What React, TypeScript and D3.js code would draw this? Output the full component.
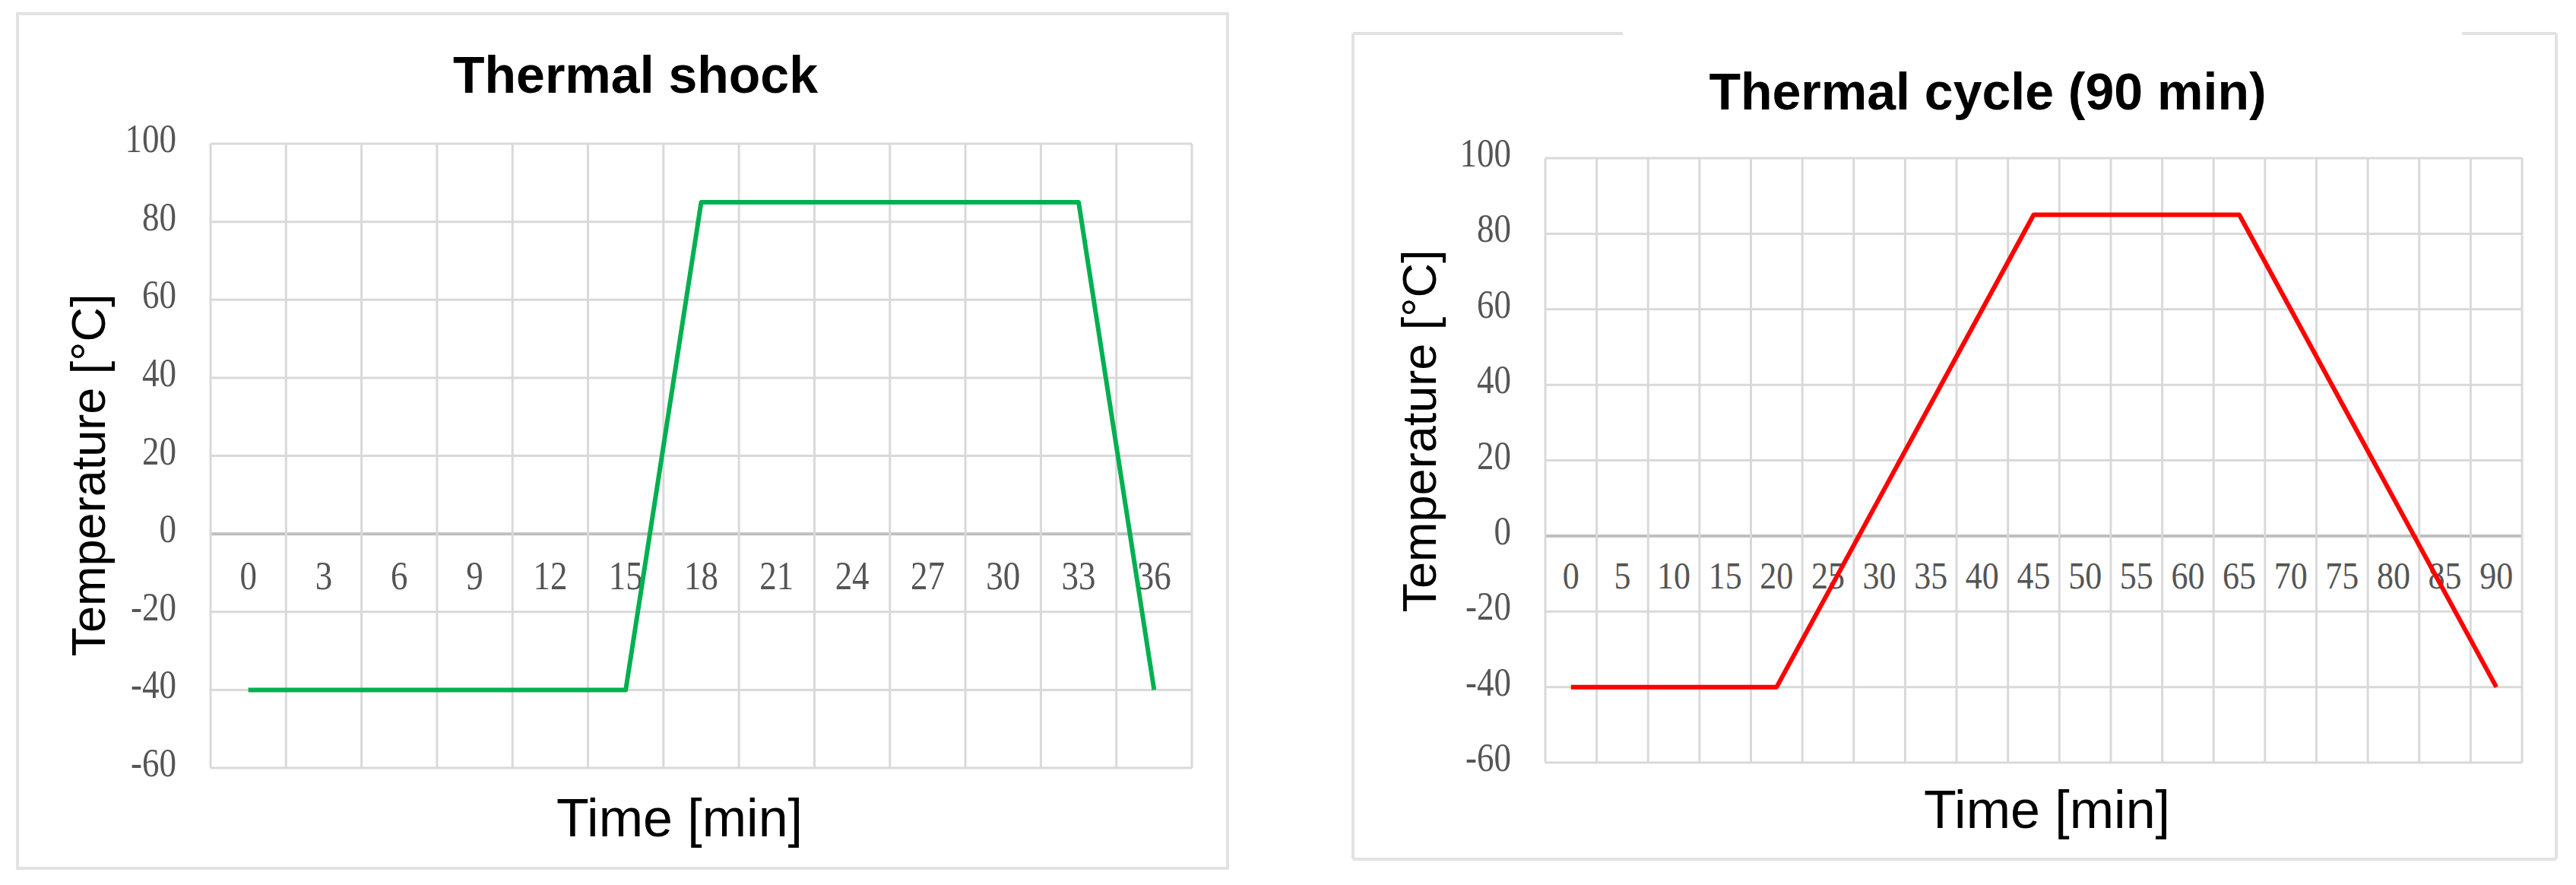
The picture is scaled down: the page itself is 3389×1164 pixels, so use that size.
import React from "react";
import * as d3 from "d3";

// Thermal shock profile (category axis, 3 min steps)
const shockTimes = [0, 3, 6, 9, 12, 15, 18, 21, 24, 27, 30, 33, 36];
const shockTemps = [-40, -40, -40, -40, -40, -40, 85, 85, 85, 85, 85, 85, -40];

// Thermal cycle profile (category axis, 5 min steps)
const cycleTimes = [0, 5, 10, 15, 20, 25, 30, 35, 40, 45, 50, 55, 60, 65, 70, 75, 80, 85, 90];
const cycleTemps = [-40, -40, -40, -40, -40, -15, 10, 35, 60, 85, 85, 85, 85, 85, 60, 35, 10, -15, -40];

const yTicks = [100, 80, 60, 40, 20, 0, -20, -40, -60];

const GRID = "#d9d9d9";
const ZERO = "#bfbfbf";
const BORDER = "#e2e2e2";
const TICK = "#555555";
const SERIF = "'Liberation Serif', 'DejaVu Serif', serif";
const SANS = "'Liberation Sans', Arial, sans-serif";

type ChartProps = {
  title: string;
  times: number[];
  temps: number[];
  color: string;
  box: { x0: number; y0: number; x1: number; y1: number };
  topGap?: [number, number];
  plot: { x0: number; y0: number; x1: number; y1: number };
  titleX: number;
  titleY: number;
  yTitleX: number;
  yTitleY: number;
  xTitleX: number;
  xTitleY: number;
  xLabelOffset: number;
  xLabelSize: number;
};

const Chart = (p: ChartProps) => {
  const x = d3
    .scaleBand<number>()
    .domain(p.times)
    .range([p.plot.x0, p.plot.x1])
    .padding(0);
  const y = d3.scaleLinear().domain([-60, 100]).range([p.plot.y1, p.plot.y0]);
  const bw = x.bandwidth();
  const center = (t: number) => (x(t) as number) + bw / 2;

  const line = d3
    .line<number>()
    .x((_, i) => center(p.times[i]))
    .y((d) => y(d));

  const boundaries = p.times.map((t) => x(t) as number).concat([p.plot.x1]);
  const { x0, y0, x1, y1 } = p.box;

  return (
    <g>
      {/* outer chart border */}
      {p.topGap ? (
        <>
          <line x1={x0} y1={y0} x2={p.topGap[0]} y2={y0} stroke={BORDER} strokeWidth={4} />
          <line x1={p.topGap[1]} y1={y0} x2={x1} y2={y0} stroke={BORDER} strokeWidth={4} />
          <line x1={x0} y1={y0} x2={x0} y2={y1} stroke={BORDER} strokeWidth={4} />
          <line x1={x1} y1={y0} x2={x1} y2={y1} stroke={BORDER} strokeWidth={4} />
          <line x1={x0} y1={y1} x2={x1} y2={y1} stroke={BORDER} strokeWidth={4} />
        </>
      ) : (
        <rect x={x0} y={y0} width={x1 - x0} height={y1 - y0} fill="#fff" stroke={BORDER} strokeWidth={4} />
      )}

      {/* horizontal gridlines */}
      {yTicks.map((v) => (
        <line
          key={"h" + v}
          x1={p.plot.x0}
          x2={p.plot.x1}
          y1={y(v)}
          y2={y(v)}
          stroke={v === 0 ? ZERO : GRID}
          strokeWidth={v === 0 ? 4 : 3}
        />
      ))}
      {/* vertical gridlines at category boundaries */}
      {boundaries.map((bx, i) => (
        <line key={"v" + i} x1={bx} x2={bx} y1={p.plot.y0} y2={p.plot.y1} stroke={GRID} strokeWidth={3} />
      ))}

      {/* y tick labels (slightly tall glyphs, as in the source) */}
      {yTicks.map((v) => (
        <text
          key={"yl" + v}
          transform={`translate(${p.plot.x0 - 45},${y(v) + 11}) scale(1,1.15)`}
          textAnchor="end"
          fontFamily={SERIF}
          fontSize={45}
          fill={TICK}
        >
          {v}
        </text>
      ))}

      {/* x tick labels, sitting just under the zero line */}
      {p.times.map((t) => (
        <text
          key={"xl" + t}
          transform={`translate(${center(t)},${y(0) + p.xLabelOffset}) scale(1,1.15)`}
          textAnchor="middle"
          fontFamily={SERIF}
          fontSize={p.xLabelSize}
          fill={TICK}
        >
          {t}
        </text>
      ))}

      <path d={line(p.temps) || ""} fill="none" stroke={p.color} strokeWidth={6} strokeLinejoin="round" />

      <text
        x={p.titleX}
        y={p.titleY}
        textAnchor="middle"
        fontFamily={SANS}
        fontWeight="bold"
        fontSize={68}
        fill="#000"
      >
        {p.title}
      </text>
      <text
        transform={`translate(${p.yTitleX},${p.yTitleY}) rotate(-90)`}
        textAnchor="middle"
        fontFamily={SANS}
        fontSize={63}
        fill="#000"
      >
        Temperature [°C]
      </text>
      <text
        x={p.xTitleX}
        y={p.xTitleY}
        textAnchor="middle"
        fontFamily={SANS}
        fontSize={70}
        fill="#000"
      >
        Time [min]
      </text>
    </g>
  );
};

export default function App() {
  return (
    <div style={{ position: "absolute", left: 0, top: 0 }}>
      <svg width={3389} height={1164} style={{ display: "block", background: "#fff" }}>
        <Chart
          title="Thermal shock"
          times={shockTimes}
          temps={shockTemps}
          color="#00b050"
          box={{ x0: 23, y0: 18, x1: 1615, y1: 1142 }}
          plot={{ x0: 277, y0: 189, x1: 1568, y1: 1010 }}
          titleX={836}
          titleY={122}
          yTitleX={138}
          yTitleY={625}
          xTitleX={894}
          xTitleY={1100}
          xLabelOffset={73}
          xLabelSize={45}
        />
        <Chart
          title="Thermal cycle (90 min)"
          times={cycleTimes}
          temps={cycleTemps}
          color="#ff0000"
          box={{ x0: 1780, y0: 44, x1: 3363, y1: 1130 }}
          topGap={[2135, 3239]}
          plot={{ x0: 2033, y0: 208, x1: 3318, y1: 1003 }}
          titleX={2615}
          titleY={144}
          yTitleX={1889}
          yTitleY={567}
          xTitleX={2693}
          xTitleY={1089}
          xLabelOffset={69}
          xLabelSize={44}
        />
      </svg>
    </div>
  );
}
